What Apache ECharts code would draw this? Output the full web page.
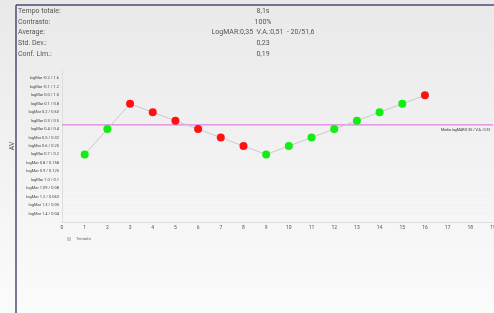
<!DOCTYPE html>
<html>
<head>
<meta charset="utf-8">
<title>AV</title>
<script src="https://cdn.jsdelivr.net/npm/echarts@6.0.0/dist/echarts.min.js"></script>
<style>
  html, body { margin: 0; padding: 0; }
  #chart { width: 494px; height: 313px; }
</style>
</head>
<body>
<div id="chart"></div>
<script>
    // header table
    var infoLabels = ['Tempo totale:', 'Contrasto:', 'Average:', 'Std. Dev.:', 'Conf. Lim.:'];
    var infoValues = ['8,1s', '100%', 'LogMAR:0,35  V.A.:0,51  - 20/51,6', '0,23', '0,19'];

    // y axis tick labels (logMAR / decimal acuity)
    var logMarTicks = [-0.2, -0.1, 0.0, 0.1, 0.2, 0.3, 0.4, 0.5, 0.6, 0.7, 0.8, 0.9, 1.0, 1.1, 1.2, 1.3, 1.4];
    var tickLabels = ['logMar -0.2 / 1.6', 'logMar -0.1 / 1.2', 'logMar 0.0 / 1.0', 'logMar 0.1 / 0.8',
        'logMar 0.2 / 0.63', 'logMar 0.3 / 0.5', 'logMar 0.4 / 0.4', 'logMar 0.5 / 0.32',
        'logMar 0.6 / 0.25', 'logMar 0.7 / 0.2', 'logMar 0.8 / 0.158', 'logMar 0.9 / 0.125',
        'logMar 1.0 / 0.1', 'logMar 1.09 / 0.08', 'logMar 1.2 / 0.063', 'logMar 1.3 / 0.05',
        'logMar 1.4 / 0.04'];

    // attempts
    var attempts = [1, 2, 3, 4, 5, 6, 7, 8, 9, 10, 11, 12, 13, 14, 15, 16];
    var logMar = [0.7, 0.4, 0.1, 0.2, 0.3, 0.4, 0.5, 0.6, 0.7, 0.6, 0.5, 0.4, 0.3, 0.2, 0.1, 0.0];
    var correct = [1, 1, 0, 0, 0, 0, 0, 0, 1, 1, 1, 1, 1, 1, 1, 0];
    var meanLogMar = 0.35;
    var meanLabel = 'Media logMAR:0.35 / V.A.: 0.51';

    var xMin = 0, xMax = 19;

    var chart = echarts.init(document.getElementById('chart'));

    var headerText = [];
    infoLabels.forEach(function (lab, i) {
        var y = 8 + i * 10.6;
        headerText.push({ type: 'text', left: 18, top: y, style: { text: lab, fontSize: 7, fill: '#555', fontFamily: 'Roboto' } });
        headerText.push({ type: 'text', x: 263, y: y, style: { text: infoValues[i], fontSize: 7, fill: '#555', fontFamily: 'Roboto', textAlign: 'center' } });
    });

    var points = logMar.map(function (v, i) {
        return {
            value: [attempts[i], v],
            itemStyle: { color: correct[i] ? '#11ee11' : '#ff1111' }
        };
    });

    var option = {
        backgroundColor: new echarts.graphic.LinearGradient(0, 0, 0, 1, [
            { offset: 0, color: '#e9e9e9' },
            { offset: 1, color: '#fbfbfb' }
        ]),
        animation: false,
        textStyle: { fontFamily: 'Roboto' },
        graphic: [
            { type: 'line', shape: { x1: 16, y1: 5, x2: 494, y2: 5 }, style: { stroke: '#4d4d70', lineWidth: 1.5 } },
            { type: 'line', shape: { x1: 16, y1: 5, x2: 16, y2: 313 }, style: { stroke: '#4d4d70', lineWidth: 1.5 } }
        ].concat(headerText),
        legend: {
            left: 62, top: 232,
            itemWidth: 4, itemHeight: 4,
            icon: 'rect',
            textStyle: { fontSize: 4, color: '#666' },
            data: [{ name: 'Tentativi', itemStyle: { color: '#ccc' } }]
        },
        grid: { left: 62, right: 1, top: 70, bottom: 91, outerBoundsMode: 'none' },
        xAxis: {
            type: 'value', min: xMin, max: xMax, interval: 1,
            axisLine: { onZero: false, lineStyle: { color: '#ddd' } },
            axisTick: { show: false },
            axisLabel: { fontSize: 5, color: '#555', margin: 3, showMaxLabel: true },
            splitLine: { show: false }
        },
        yAxis: {
            type: 'value', inverse: true, min: -0.3, max: 1.5, interval: 0.1,
            name: 'AV', nameLocation: 'middle', nameGap: 37, nameRotate: 90,
            nameTextStyle: { fontSize: 7, color: '#444' },
            axisLine: { show: true, onZero: false, lineStyle: { color: '#ddd' } },
            axisTick: { show: false },
            axisLabel: {
                fontSize: 4, color: '#444', margin: 3,
                formatter: function (v) {
                    var r = Math.round(v * 10) / 10;
                    for (var i = 0; i < logMarTicks.length; i++) {
                        if (Math.abs(logMarTicks[i] - r) < 1e-6) return tickLabels[i];
                    }
                    return '';
                }
            },
            splitLine: { lineStyle: { color: '#efefef', width: 0.6 } }
        },
        series: [{
            name: 'Media',
            type: 'line',
            data: [[xMin, meanLogMar], [xMax, meanLogMar]],
            symbol: 'none',
            silent: true,
            z: 1,
            lineStyle: { color: '#e27ee2', width: 1.2 },
            markPoint: {
                symbol: 'circle',
                symbolSize: 0,
                silent: true,
                label: {
                    show: true, formatter: meanLabel, fontSize: 3.6, color: '#333',
                    position: [-52, 3]
                },
                data: [{ coord: [xMax, meanLogMar] }]
            }
        }, {
            name: 'Tentativi',
            type: 'line',
            data: points,
            symbol: 'circle',
            symbolSize: 8,
            z: 3,
            lineStyle: { color: '#c9c9c9', width: 1 }
        }]
    };
    chart.setOption(option);
</script>
</body>
</html>
